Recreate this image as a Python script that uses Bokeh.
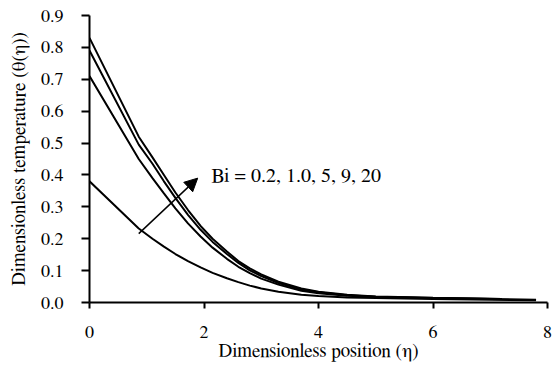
from bokeh.plotting import figure
from bokeh.models import Range1d, FixedTicker, Arrow, NormalHead, Label, NumeralTickFormatter
from bokeh.embed import file_html
from bokeh.resources import INLINE

# Dimensionless position (eta) sample points
eta_long = [0.0, 0.86, 1.1, 1.3, 1.5, 1.72, 1.94, 2.15, 2.4, 2.6, 2.8, 3.0, 3.3, 3.7, 4.0, 4.5, 5.0, 6.0, 7.8]
eta_short = [0.0, 0.86, 1.1, 1.3, 1.5, 1.72, 1.94, 2.15, 2.4, 2.6, 2.8, 3.0, 3.3, 3.7, 4.0, 4.5, 5.0, 6.0, 7.2]

# Dimensionless temperature for each Bi
theta_bi_0_2 = [0.38, 0.232, 0.20, 0.175, 0.152, 0.13, 0.11, 0.093, 0.076, 0.064, 0.053, 0.044, 0.034, 0.024, 0.020, 0.016, 0.014, 0.011, 0.007]
theta_bi_1_0 = [0.71, 0.45, 0.39, 0.342, 0.295, 0.248, 0.207, 0.172, 0.137, 0.112, 0.092, 0.075, 0.056, 0.037, 0.029, 0.021, 0.017, 0.013, 0.009]
theta_bi_5 = [0.79, 0.495, 0.435, 0.38, 0.328, 0.275, 0.228, 0.19, 0.152, 0.124, 0.101, 0.083, 0.061, 0.041, 0.032, 0.023, 0.018, 0.014, 0.011]
theta_bi_20 = [0.83, 0.52, 0.455, 0.40, 0.345, 0.29, 0.24, 0.20, 0.16, 0.13, 0.107, 0.088, 0.065, 0.044, 0.034, 0.024, 0.019, 0.015, 0.011]

x_ticks = [0, 2, 4, 6, 8]
y_ticks = [0.0, 0.1, 0.2, 0.3, 0.4, 0.5, 0.6, 0.7, 0.8, 0.9]

annotation_text = "Bi = 0.2, 1.0, 5, 9, 20"

FONT = "FreeSerif"

p = figure(width=554, height=372,
           x_range=Range1d(0, 8), y_range=Range1d(0, 0.9),
           output_backend="svg", toolbar_location=None,
           min_border_left=89, min_border_right=7,
           min_border_top=15, min_border_bottom=70)

p.grid.visible = False
p.outline_line_color = None
p.background_fill_color = "white"
p.border_fill_color = "white"

for xs, ys in [(eta_long, theta_bi_0_2), (eta_long, theta_bi_1_0),
               (eta_short, theta_bi_5), (eta_short, theta_bi_20)]:
    p.line(xs, ys, line_color="black", line_width=2)

p.xaxis.ticker = FixedTicker(ticks=x_ticks)
p.yaxis.ticker = FixedTicker(ticks=y_ticks)
p.yaxis.formatter = NumeralTickFormatter(format="0.0")
p.xaxis.formatter = NumeralTickFormatter(format="0")

for ax in (p.xaxis[0], p.yaxis[0]):
    ax.axis_line_width = 2
    ax.axis_line_color = "black"
    ax.major_tick_line_width = 2
    ax.major_tick_line_color = "black"
    ax.major_tick_in = 0
    ax.minor_tick_line_color = None
    ax.major_label_text_font = FONT
    ax.major_label_text_font_size = "18px"
    ax.major_label_text_color = "black"
    ax.axis_label_text_font = FONT
    ax.axis_label_text_font_size = "19px"
    ax.axis_label_text_font_style = "normal"
    ax.axis_label_text_color = "black"

p.xaxis.major_tick_out = 6
p.xaxis.major_label_standoff = 17
p.xaxis.axis_label = "Dimensionless position (\u03b7)"
p.xaxis.axis_label_standoff = 1

p.yaxis.major_tick_out = 8
p.yaxis.major_label_standoff = 18
p.yaxis.axis_label = "Dimensionless temperature (\u03b8(\u03b7))"
p.yaxis.axis_label_standoff = 9

p.add_layout(Arrow(end=NormalHead(size=13, fill_color="black", line_color="black"),
                   x_start=0.86, y_start=0.216, x_end=1.89, y_end=0.39,
                   line_color="black", line_width=1.5))

p.add_layout(Label(x=2.13, y=0.398, text=annotation_text, text_baseline="middle",
                   text_align="left", text_font=FONT, text_font_size="20px",
                   text_color="black"))

open("out.html", "w").write(file_html(p, INLINE))
